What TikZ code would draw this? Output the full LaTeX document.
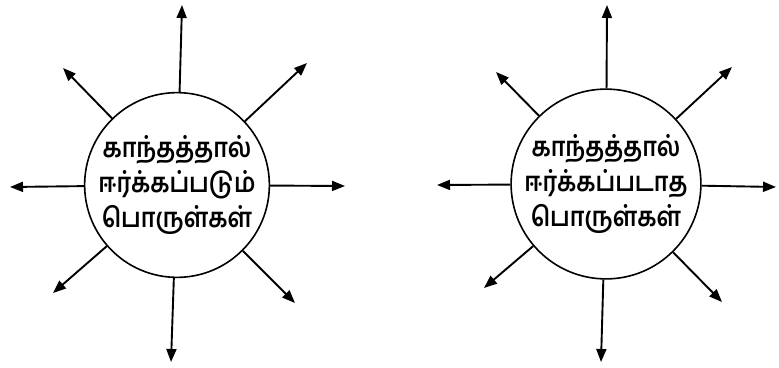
\documentclass[tikz,border=0pt]{standalone}
\usepackage{fontspec}
\newfontfamily\tamilfont[Script=Tamil,FakeStretch=0.87]{Hind Madurai}
\usetikzlibrary{arrows.meta}
\tikzset{
  blob/.style={circle, draw, line width=1.6pt, inner sep=0pt, align=center,
    font=\tamilfont\bfseries\fontsize{27}{35}\selectfont},
  ray/.style={line width=1.9pt, -{Triangle[length=13pt,width=10pt]}}
}
\begin{document}
\begin{tikzpicture}[x=1pt,y=-1pt]
\useasboundingbox (0,0) rectangle (779,367);
% left diagram
\node[blob, minimum size=174pt] (L) at (177,185) {காந்தத்தால்\\ஈர்க்கப்படும்\\பொருள்கள்};
\coordinate (LU) at (182,5);
\coordinate (LD) at (171,362);
\coordinate (LW) at (10,187);
\coordinate (LE) at (345,186);
\coordinate (LNW) at (63,68);
\coordinate (LNE) at (307,63);
\coordinate (LSW) at (53,293);
\coordinate (LSE) at (295,303);
\foreach \t in {LU,LD,LW,LE,LNW,LNE,LSW,LSE} \draw[ray] (L) -- (\t);
% right diagram
\node[blob, minimum size=170pt] (R) at (606,184) {காந்தத்தால்\\ஈர்க்கப்படாத\\பொருள்கள்};
\coordinate (RU) at (607,5);
\coordinate (RD) at (601,362);
\coordinate (RW) at (437,185);
\coordinate (RE) at (776,187);
\coordinate (RNW) at (496,72);
\coordinate (RNE) at (732,67);
\coordinate (RSW) at (484,288);
\coordinate (RSE) at (722,302);
\foreach \t in {RU,RD,RW,RE,RNW,RNE,RSW,RSE} \draw[ray] (R) -- (\t);
\end{tikzpicture}
\end{document}
